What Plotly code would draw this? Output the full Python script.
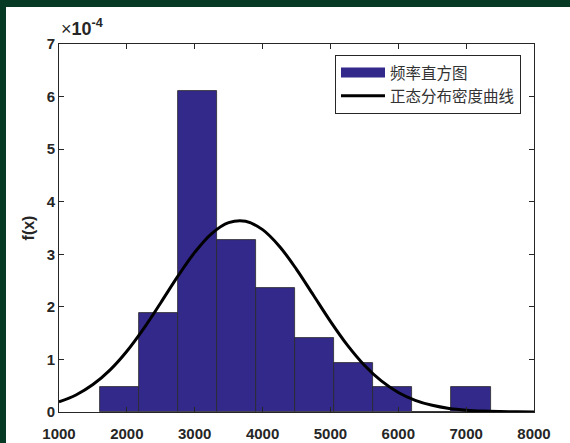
import plotly.graph_objects as go

# ---- data ----
bin_edges = [1600, 2176, 2752, 3328, 3904, 4480, 5056, 5632, 6208, 6784, 7360]
density_e4 = [0.47, 1.88, 6.10, 3.28, 2.35, 1.41, 0.94, 0.47, 0.0, 0.47]  # x 1e-4

curve_x = [1000, 1250, 1500, 1750, 2000, 2250, 2500, 2750, 3000, 3250, 3500, 3750,
           4000, 4250, 4500, 4750, 5000, 5250, 5500, 5750, 6000, 6250, 6500, 6750,
           7000, 7250, 7500, 7750, 8000]
curve_y_e4 = [0.191, 0.324, 0.522, 0.797, 1.156, 1.591, 2.079, 2.579, 3.036, 3.394,
              3.601, 3.628, 3.469, 3.149, 2.714, 2.220, 1.724, 1.271, 0.889, 0.591,
              0.372, 0.223, 0.127, 0.068, 0.035, 0.017, 0.008, 0.003, 0.001]

x_ticks = [1000, 2000, 3000, 4000, 5000, 6000, 7000, 8000]
y_ticks = [0, 1, 2, 3, 4, 5, 6, 7]

hist_name = "频率直方图"
curve_name = "正态分布密度曲线"

bar_color = "#33298a"
axis_color = "#262626"
frame_color = "#063a25"

centers = [(a + b) / 2 for a, b in zip(bin_edges[:-1], bin_edges[1:])]
widths = [b - a for a, b in zip(bin_edges[:-1], bin_edges[1:])]

fig = go.Figure()
fig.add_trace(go.Bar(x=centers, y=density_e4, width=widths,
                     marker=dict(color=bar_color, line=dict(color="#2a2a2a", width=0.8)),
                     showlegend=False, name=hist_name))
# legend entry for histogram (wide patch)
fig.add_trace(go.Scatter(x=[None], y=[None], mode="lines", name=hist_name,
                         line=dict(color=bar_color, width=16)))
fig.add_trace(go.Scatter(x=curve_x, y=curve_y_e4, mode="lines", name=curve_name,
                         line=dict(color="black", width=3, shape="spline")))

W, H = 570, 443
L, R, T, B = 59, 36, 44, 31
pw, ph = W - L - R, H - T - B

def px_x(px):
    return (px - L) / pw

def px_y(py):
    return (H - B - py) / ph

tickfont = dict(family="Liberation Sans, Arial", size=15, color=axis_color)

fig.update_layout(
    width=W, height=H, autosize=False,
    margin=dict(l=L, r=R, t=T, b=B, autoexpand=False),
    paper_bgcolor="white", plot_bgcolor="white",
    bargap=0,
    xaxis=dict(range=[1000, 8000], tickvals=x_ticks, ticktext=[f"<b>{v}</b>" for v in x_ticks],
               ticks="inside", ticklen=5, tickcolor=axis_color, showline=True,
               linecolor=axis_color, linewidth=1, mirror="ticks", showgrid=False,
               zeroline=False, tickfont=tickfont, ticklabelstandoff=8, automargin=False),
    yaxis=dict(range=[0, 7], tickvals=y_ticks, ticktext=[f"<b>{v}</b>" for v in y_ticks],
               ticks="inside", ticklen=5, tickcolor=axis_color, showline=True,
               linecolor=axis_color, linewidth=1, mirror="ticks", showgrid=False,
               zeroline=False, tickfont=tickfont, automargin=False,
               title=dict(text="<b>f(x)</b>", font=dict(family="Liberation Sans, Arial", size=16,
                                                         color=axis_color), standoff=8)),
    legend=dict(x=px_x(521), y=px_y(55), xanchor="right", yanchor="top",
                bgcolor="white", bordercolor=axis_color, borderwidth=1,
                font=dict(family="Noto Sans CJK SC", size=15.5, color="#333333"),
                itemwidth=44, tracegroupgap=0),
    shapes=[
        dict(type="rect", xref="paper", yref="paper", x0=px_x(-2), x1=px_x(6),
             y0=px_y(H + 2), y1=px_y(-2), fillcolor=frame_color, line=dict(width=0), layer="below"),
        dict(type="rect", xref="paper", yref="paper", x0=px_x(-2), x1=px_x(W + 2),
             y0=px_y(7), y1=px_y(-2), fillcolor=frame_color, line=dict(width=0), layer="below"),
    ],
    annotations=[
        dict(text="×<b>10</b><sup><b>-4</b></sup>", xref="paper", yref="paper",
             x=px_x(59), y=px_y(41), xanchor="left", yanchor="bottom", showarrow=False,
             font=dict(family="Liberation Sans, Arial", size=18, color=axis_color)),
    ],
)

fig.write_html("out.html", config={"displayModeBar": False},
               post_script="document.body.style.margin='0';document.body.style.overflow='hidden';")
